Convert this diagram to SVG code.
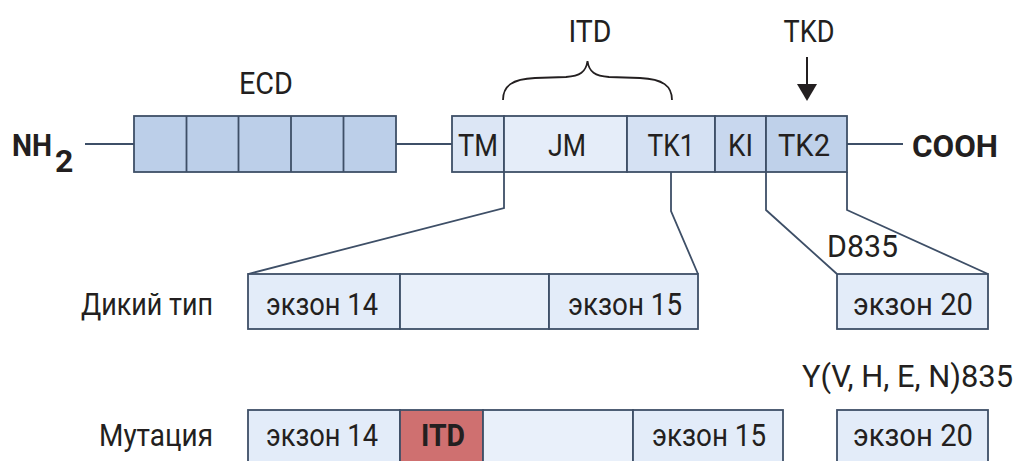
<svg xmlns="http://www.w3.org/2000/svg" width="1019" height="461" viewBox="0 0 1019 461">
  <style>
    .box { stroke: #3e4f67; stroke-width: 1.8; }
    .wire { fill: none; stroke: #3e4f67; stroke-width: 1.8; }
    .lbl { font-family: Roboto, "Liberation Sans", sans-serif; font-size: 32px; fill: #231f20; }
    .mid { text-anchor: middle; }
    .end { text-anchor: end; }
    .bold { font-weight: bold; }
    .ecd { fill: #bccfe9; }
    .tm { fill: #dce6f5; }
    .jm { fill: #e5edf9; }
    .tk1 { fill: #d5e1f3; }
    .ki { fill: #c8d7ee; }
    .tk2 { fill: #bfd1ea; }
    .exon { fill: #e3ecf9; }
    .gap { fill: #e9f0fa; }
    .itd { fill: #cf7070; }
  </style>

  <rect width="1019" height="461" fill="#ffffff"/>

  <!-- connectors: backbone lines, zoom-in leaders, brace and arrow -->
  <g id="connectors">
    <path class="wire" d="M85,144 H134"/>
    <path class="wire" d="M396,144 H452"/>
    <path class="wire" d="M847,144 H903"/>
    <path class="wire" d="M504,172 V208 L248,274"/>
    <path class="wire" d="M671,172 V211 L698,274"/>
    <path class="wire" d="M766,172 V210 L837,274"/>
    <path class="wire" d="M847,172 V210 L988,274"/>
    <path id="itd-brace" d="M503,100 C503,86 512,79 535,78 L566,77 C580,76 586,72 587.5,61 C589,72 595,76 609,77 L640,78 C663,79 672,86 672,100" fill="none" stroke="#231f20" stroke-width="1.8"/>
    <g id="tkd-arrow">
      <line x1="807" y1="57" x2="807" y2="88" stroke="#231f20" stroke-width="2"/>
      <polygon points="797,84 817,84 807,101" fill="#231f20"/>
    </g>
  </g>

  <!-- protein termini -->
  <g id="nh2">
    <text class="lbl bold" x="12" y="156" textLength="40" lengthAdjust="spacingAndGlyphs">NH</text>
    <text class="lbl bold" x="55" y="172" font-size="17">2</text>
  </g>
  <g id="cooh">
    <text class="lbl bold" x="912" y="157" font-size="34" textLength="86" lengthAdjust="spacingAndGlyphs">COOH</text>
  </g>

  <!-- extracellular domain -->
  <g id="ecd">
    <rect class="box ecd" x="134" y="116" width="262" height="56"/>
    <path class="wire" d="M186.5,116 V172 M238.5,116 V172 M291,116 V172 M343.5,116 V172"/>
    <text class="lbl mid" x="266" y="94" textLength="54" lengthAdjust="spacingAndGlyphs">ECD</text>
  </g>

  <!-- intracellular domains -->
  <g id="tm">
    <rect class="box tm" x="452" y="116" width="52" height="56"/>
    <text class="lbl mid" x="478" y="156" textLength="40" lengthAdjust="spacingAndGlyphs">TM</text>
  </g>
  <g id="jm">
    <rect class="box jm" x="504" y="116" width="123" height="56"/>
    <text class="lbl mid" x="567" y="156" textLength="38" lengthAdjust="spacingAndGlyphs">JM</text>
  </g>
  <g id="tk1">
    <rect class="box tk1" x="627" y="116" width="88" height="56"/>
    <text class="lbl mid" x="671" y="156" textLength="47" lengthAdjust="spacingAndGlyphs">TK1</text>
  </g>
  <g id="ki">
    <rect class="box ki" x="715" y="116" width="51" height="56"/>
    <text class="lbl mid" x="740.5" y="156" textLength="25" lengthAdjust="spacingAndGlyphs">KI</text>
  </g>
  <g id="tk2">
    <rect class="box tk2" x="766" y="116" width="81" height="56"/>
    <text class="lbl mid" x="804" y="156" textLength="52" lengthAdjust="spacingAndGlyphs">TK2</text>
  </g>

  <!-- region labels -->
  <g id="itd-label">
    <text class="lbl mid" x="590" y="42" textLength="43" lengthAdjust="spacingAndGlyphs">ITD</text>
  </g>
  <g id="tkd-label">
    <text class="lbl mid" x="809" y="42" textLength="51" lengthAdjust="spacingAndGlyphs">TKD</text>
  </g>

  <!-- wild type -->
  <g id="wild-type">
    <text class="lbl end" x="213" y="315" textLength="132" lengthAdjust="spacingAndGlyphs">Дикий тип</text>
    <rect class="box exon" x="248" y="274" width="152" height="55"/>
    <rect class="box gap" x="400" y="274" width="149" height="55"/>
    <rect class="box exon" x="549" y="274" width="149" height="55"/>
    <text class="lbl mid" x="322" y="315" textLength="112" lengthAdjust="spacingAndGlyphs">экзон 14</text>
    <text class="lbl mid" x="625" y="315" textLength="114" lengthAdjust="spacingAndGlyphs">экзон 15</text>
  </g>
  <g id="wild-exon20">
    <text class="lbl" x="827" y="257" textLength="71" lengthAdjust="spacingAndGlyphs">D835</text>
    <rect class="box exon" x="837" y="274" width="151" height="55"/>
    <text class="lbl mid" x="913" y="315" textLength="120" lengthAdjust="spacingAndGlyphs">экзон 20</text>
  </g>

  <!-- mutant -->
  <g id="mutant">
    <text class="lbl end" x="213" y="446" textLength="114" lengthAdjust="spacingAndGlyphs">Мутация</text>
    <rect class="box exon" x="248" y="410" width="152" height="60"/>
    <rect class="box itd" x="400" y="410" width="83" height="60"/>
    <rect class="box gap" x="483" y="410" width="150" height="60"/>
    <rect class="box exon" x="633" y="410" width="150" height="60"/>
    <text class="lbl mid" x="322" y="446" textLength="112" lengthAdjust="spacingAndGlyphs">экзон 14</text>
    <text class="lbl mid bold" x="443" y="446" textLength="44" lengthAdjust="spacingAndGlyphs">ITD</text>
    <text class="lbl mid" x="709" y="446" textLength="114" lengthAdjust="spacingAndGlyphs">экзон 15</text>
  </g>
  <g id="mutant-exon20">
    <text class="lbl" x="802" y="387" textLength="211" lengthAdjust="spacingAndGlyphs">Y(V, H, E, N)835</text>
    <rect class="box exon" x="837" y="410" width="151" height="60"/>
    <text class="lbl mid" x="913" y="446" textLength="120" lengthAdjust="spacingAndGlyphs">экзон 20</text>
  </g>
</svg>
